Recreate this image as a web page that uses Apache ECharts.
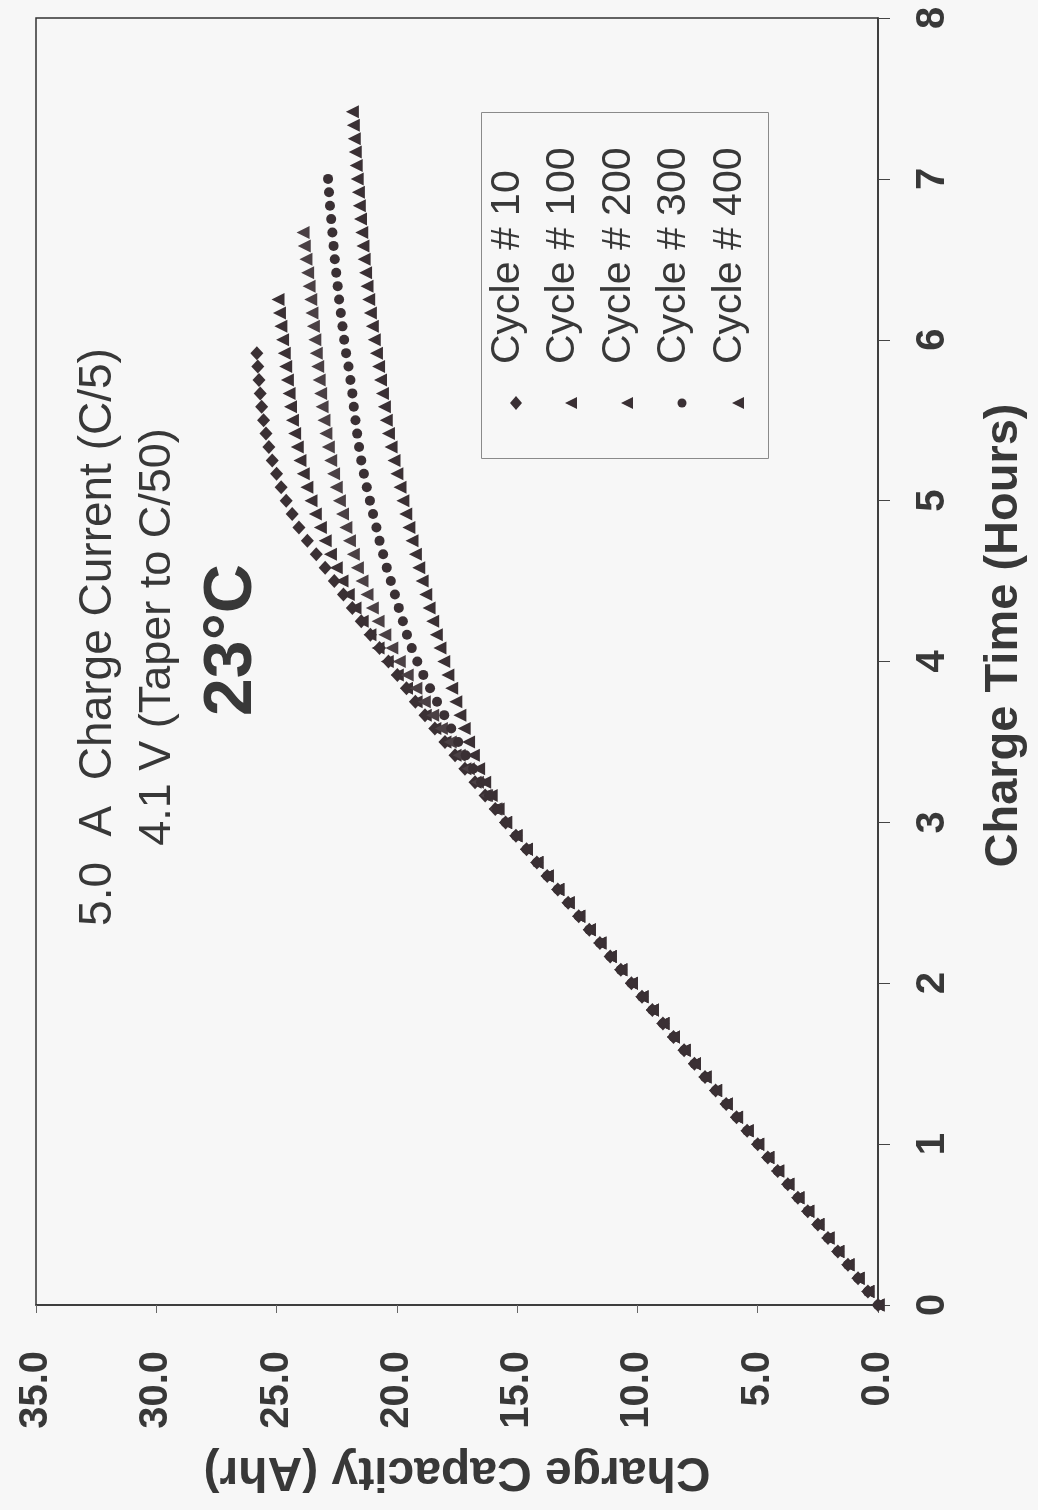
<!DOCTYPE html>
<html><head><meta charset="utf-8">
<script src="https://cdn.jsdelivr.net/npm/echarts@6/dist/echarts.min.js"></script>
<style>html,body{margin:0;padding:0;background:#f7f7f7}#c{width:1038px;height:1510px}</style>
</head><body><div id="c"></div>
<script>
// Sample times in minutes (5-minute logging interval)
const minutes = [0,5,10,15,20,25,30,35,40,45,50,55,60,65,70,75,80,85,90,95,100,105,110,115,120,125,130,135,140,145,150,155,160,165,170,175,180,185,190,195,200,205,210,215,220,225,230,235,240,245,250,255,260,265,270,275,280,285,290,295,300,305,310,315,320,325,330,335,340,345,350,355,360,365,370,375,380,385,390,395,400,405,410,415,420,425,430,435,440,445];
// Constant-current phase capacity (Ahr), common to all cycles, 0 .. 180 min
const ccPhase = [0,0.42,0.83,1.25,1.67,2.08,2.50,2.92,3.33,3.75,4.17,4.58,5.00,5.44,5.88,6.31,6.75,7.19,7.63,8.06,8.50,8.94,9.38,9.81,10.25,10.69,11.13,11.56,12.00,12.44,12.88,13.31,13.75,14.18,14.61,15.05,15.48];
// Capacity (Ahr) from 185 min onward, per cycle
const cycle10Tail = [15.91,16.33,16.75,17.17,17.58,18.0,18.42,18.83,19.23,19.6,19.98,20.35,20.72,21.1,21.48,21.85,22.22,22.6,22.98,23.35,23.72,24.07,24.35,24.6,24.81,25.0,25.18,25.32,25.44,25.54,25.62,25.68,25.73,25.78,25.82];
const cycle100Tail = [15.91,16.33,16.75,17.17,17.58,18.0,18.42,18.82,19.2,19.6,19.98,20.4,20.78,21.12,21.44,21.74,22.02,22.28,22.52,22.76,22.98,23.18,23.39,23.57,23.74,23.89,24.03,24.14,24.25,24.34,24.42,24.48,24.55,24.62,24.68,24.75,24.82,24.88,24.94];
const cycle200Tail = [15.87,16.27,16.65,17.03,17.41,17.78,18.15,18.51,18.86,19.21,19.57,19.9,20.21,20.5,20.78,21.02,21.24,21.45,21.64,21.81,21.97,22.12,22.26,22.39,22.52,22.63,22.75,22.85,22.95,23.03,23.11,23.17,23.23,23.29,23.35,23.41,23.47,23.53,23.58,23.65,23.71,23.78,23.85,23.9];
const cycle300Tail = [15.83,16.17,16.5,16.83,17.14,17.45,17.74,18.03,18.33,18.62,18.9,19.15,19.38,19.58,19.75,19.92,20.08,20.25,20.42,20.57,20.72,20.85,20.99,21.12,21.25,21.37,21.48,21.57,21.65,21.72,21.79,21.85,21.93,22.01,22.11,22.19,22.26,22.33,22.4,22.46,22.52,22.58,22.63,22.68,22.73,22.78,22.82,22.86];
const cycle400Tail = [15.79,16.08,16.35,16.6,16.82,17.02,17.2,17.38,17.55,17.72,17.88,18.05,18.21,18.36,18.51,18.66,18.8,18.95,19.09,19.23,19.37,19.5,19.63,19.75,19.87,20.0,20.12,20.24,20.35,20.44,20.52,20.6,20.68,20.76,20.85,20.94,21.02,21.1,21.17,21.24,21.3,21.36,21.41,21.46,21.51,21.56,21.6,21.65,21.69,21.73,21.77,21.81,21.85];
const seriesNames = ['Cycle # 10','Cycle # 100','Cycle # 200','Cycle # 300','Cycle # 400'];
const seriesCaps = [cycle10Tail, cycle100Tail, cycle200Tail, cycle300Tail, cycle400Tail].map(t => ccPhase.concat(t));
const noteLines = ['5.0  A  Charge Current (C/5)', '4.1 V (Taper to C/50)', '23°C'];

const FONT = '"Liberation Sans", Arial, Helvetica, sans-serif';
const INK = '#3a3034';
const TXT = '#383838';
const styles = [
  {symbol:'diamond', size:[13,14], rot:0, color:INK},
  {symbol:'triangle', size:13, rot:90, color:INK},
  {symbol:'triangle', size:13, rot:90, color:'#4a4044'},
  {symbol:'circle', size:10, rot:0, color:INK},
  {symbol:'triangle', size:13, rot:90, color:INK}
];

const chart = echarts.init(document.getElementById('c'), null, {renderer:'canvas'});

const series = seriesCaps.map((caps, k) => ({
  type:'scatter', name:seriesNames[k],
  data: caps.map((c, i) => [c, minutes[i] / 60]),
  symbol: styles[k].symbol, symbolSize: styles[k].size, symbolRotate: styles[k].rot,
  itemStyle:{color:styles[k].color, opacity:1},
  silent:true, animation:false
}));

// Legend (rotated, drawn as graphics)
const legendCols = [508, 563, 619, 674, 730];
const graphics = [{
  type:'rect', shape:{x:481.5, y:112.5, width:287, height:346},
  style:{fill:'#f7f7f7', stroke:'#8a8a8a', lineWidth:1}, z:10
}];
legendCols.forEach((cx, k) => {
  graphics.push({type:'text', x:cx, y:364, rotation:Math.PI/2, z:11,
    style:{text:seriesNames[k], font:'41px ' + FONT, fill:TXT, textAlign:'left', textVerticalAlign:'middle'}});
  const mx = cx + 8, my = 403;
  const st = styles[k];
  if (st.symbol === 'diamond') {
    graphics.push({type:'polygon', z:11, shape:{points:[[mx,my-7],[mx+6,my],[mx,my+7],[mx-6,my]]}, style:{fill:INK}});
  } else if (st.symbol === 'circle') {
    graphics.push({type:'circle', z:11, shape:{cx:mx, cy:my, r:4.5}, style:{fill:INK}});
  } else {
    graphics.push({type:'polygon', z:11, shape:{points:[[mx-6,my],[mx+6,my-6],[mx+6,my+6]]}, style:{fill:INK}});
  }
});
// Annotation text
graphics.push({type:'text', x:98, y:637, rotation:Math.PI/2, z:11,
  style:{text:noteLines[0], font:'46px ' + FONT, fill:TXT, textAlign:'center', textVerticalAlign:'middle'}});
graphics.push({type:'text', x:158, y:637, rotation:Math.PI/2, z:11,
  style:{text:noteLines[1], font:'45px ' + FONT, fill:TXT, textAlign:'center', textVerticalAlign:'middle'}});
graphics.push({type:'text', x:232, y:640, rotation:Math.PI/2, z:11,
  style:{text:noteLines[2], font:'bold 68px ' + FONT, fill:TXT, textAlign:'center', textVerticalAlign:'middle'}});

chart.setOption({
  backgroundColor:'#f7f7f7',
  animation:false,
  grid:{left:36, right:160, top:18, bottom:205, containLabel:false, outerBoundsMode:'none',
    show:true, borderColor:'#333', borderWidth:1.5, backgroundColor:'transparent'},
  xAxis:{
    type:'value', min:0, max:35, interval:5, inverse:true, position:'bottom',
    axisLine:{show:true, onZero:false, lineStyle:{color:'#333', width:1.5}},
    axisTick:{show:true, length:8, lineStyle:{color:'#666', width:1}},
    axisLabel:{rotate:90, margin:46, fontSize:40, fontWeight:'bold', color:TXT, fontFamily:FONT,
      formatter:v => v.toFixed(1)},
    splitLine:{show:false},
    name:'Charge Capacity (Ahr)', nameLocation:'middle', nameGap:142, nameRotate:180,
    nameTextStyle:{fontSize:48, fontWeight:'bold', color:TXT, fontFamily:FONT}
  },
  yAxis:{
    type:'value', min:0, max:8, interval:1, position:'right',
    axisLine:{show:true, onZero:false, lineStyle:{color:'#333', width:1.5}},
    axisTick:{show:true, length:12, lineStyle:{color:'#444', width:1}},
    axisLabel:{rotate:90, margin:35, fontSize:40, fontWeight:'bold', color:TXT, fontFamily:FONT},
    splitLine:{show:false},
    name:'Charge Time (Hours)', nameLocation:'middle', nameGap:103, nameRotate:90,
    nameTextStyle:{fontSize:47, fontWeight:'bold', color:TXT, fontFamily:FONT, padding:[0,0,0,52]}
  },
  series: series,
  graphic: graphics
});
</script></body></html>
